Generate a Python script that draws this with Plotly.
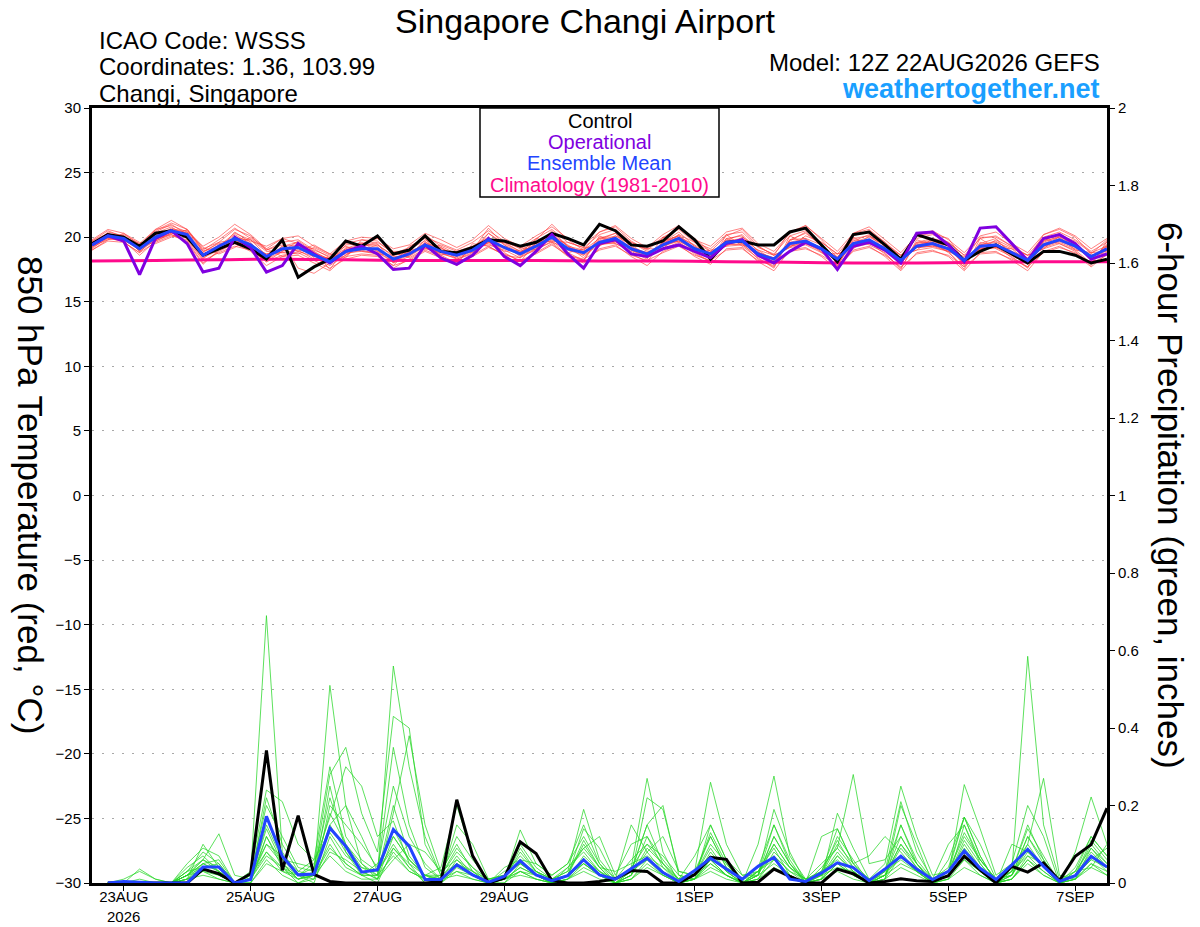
import plotly.graph_objects as go
import pandas as pd

# ---------------- time axis ----------------
TIMES = list(pd.date_range("2026-08-22 12:00", periods=65, freq="6h"))
PRECIP_TIMES = TIMES[1:]
CLIM_TIMES = TIMES[::4]

TICK_DATES = ["2026-08-23", "2026-08-25", "2026-08-27", "2026-08-29",
              "2026-09-01", "2026-09-03", "2026-09-05", "2026-09-07"]
TICK_LABELS = ["23AUG<br>2026", "25AUG", "27AUG", "29AUG", "1SEP", "3SEP", "5SEP", "7SEP"]

TEMP_TICKS = [30, 25, 20, 15, 10, 5, 0, -5, -10, -15, -20, -25, -30]
PRECIP_TICKS = [0, 0.2, 0.4, 0.6, 0.8, 1, 1.2, 1.4, 1.6, 1.8, 2]

# ---------------- 850 hPa temperature (deg C) ----------------
TEMP_CONTROL = [19.5, 20.2, 20.0, 19.3, 20.3, 20.5, 20.0, 18.6,
                19.1, 19.6, 19.1, 18.3, 19.8, 16.9, 17.7, 18.3,
                19.7, 19.3, 20.1, 18.7, 19.0, 20.1, 18.9, 18.8,
                19.2, 19.8, 19.7, 19.3, 19.6, 20.3, 19.9, 19.4,
                21.0, 20.5, 19.4, 19.3, 19.7, 20.8, 19.8, 18.3,
                19.6, 19.7, 19.4, 19.4, 20.4, 20.7, 19.4, 18.1,
                20.2, 20.4, 19.4, 18.3, 20.2, 19.8, 19.4, 18.2,
                18.9, 19.4, 18.7, 18.0, 18.9, 18.9, 18.6, 18.0,
                18.3]

TEMP_OPER = [19.4, 20.1, 19.7, 17.1, 19.9, 20.5, 19.5, 17.3,
             17.6, 20.0, 19.2, 17.3, 17.8, 19.5, 18.7, 18.0,
             18.9, 19.3, 18.7, 17.5, 17.6, 19.4, 18.4, 17.9,
             18.6, 19.9, 18.5, 17.8, 18.9, 20.2, 18.7, 17.6,
             19.5, 19.8, 18.7, 18.5, 19.1, 19.4, 18.9, 18.4,
             19.5, 19.8, 18.6, 18.0, 18.9, 19.6, 19.1, 17.5,
             19.3, 19.6, 19.0, 18.0, 20.3, 20.4, 19.4, 18.1,
             20.7, 20.8, 19.5, 18.2, 19.9, 20.2, 19.5, 18.3,
             18.7]

TEMP_MEAN = [19.4, 20.1, 19.9, 19.1, 20.0, 20.5, 20.2, 18.6,
             19.3, 19.9, 19.4, 18.5, 19.1, 19.2, 18.6, 18.1,
             18.9, 19.1, 19.1, 18.3, 18.7, 19.4, 18.9, 18.6,
             19.0, 19.8, 19.2, 18.7, 19.3, 20.0, 19.1, 18.8,
             19.6, 19.9, 19.1, 18.7, 19.4, 19.9, 19.1, 18.7,
             19.6, 19.7, 18.7, 18.3, 19.5, 19.7, 19.1, 18.3,
             19.5, 19.8, 19.1, 18.2, 19.3, 19.5, 19.1, 18.2,
             19.3, 19.4, 18.8, 18.2, 19.4, 19.8, 19.3, 18.5,
             19.1]

TEMP_CLIM = [18.15, 18.2, 18.25, 18.3, 18.25, 18.2, 18.2, 18.2, 18.15,
             18.15, 18.1, 18.05, 18.0, 18.0, 18.05, 18.1, 18.1]

TEMP_M01 = [19.2, 20.4, 20.1, 18.9, 20.3, 20.8, 20.0, 18.4, 19.0, 20.4, 19.6, 18.2, 19.3, 19.6, 18.4, 17.8,
            18.6, 19.4, 19.3, 18.0, 18.5, 19.8, 19.2, 18.3, 18.8, 20.3, 19.4, 18.5, 19.0, 20.4, 19.3, 18.4,
            19.8, 20.3, 19.0, 18.4, 19.6, 20.4, 19.3, 18.3, 19.9, 20.1, 18.5, 17.9, 19.8, 20.3, 19.4, 18.0,
            19.7, 20.2, 19.0, 17.9, 19.6, 19.9, 19.3, 17.8, 19.5, 19.9, 18.6, 17.9, 19.7, 20.3, 19.5, 18.2, 19.5]
TEMP_M02 = [19.6, 19.9, 19.7, 19.2, 19.8, 20.3, 20.4, 18.9, 19.5, 19.6, 19.1, 18.7, 18.8, 18.7, 19.2, 18.6,
            19.3, 18.9, 18.7, 18.6, 19.0, 19.2, 18.6, 18.9, 19.3, 19.5, 18.9, 19.0, 19.6, 19.7, 18.8, 19.1,
            19.4, 19.6, 19.4, 19.1, 19.1, 19.6, 18.8, 19.0, 19.3, 19.4, 19.0, 18.6, 19.2, 19.4, 18.8, 18.7,
            19.2, 19.5, 19.3, 18.6, 19.0, 19.2, 18.9, 18.5, 19.0, 19.2, 19.1, 18.6, 19.1, 19.5, 19.0, 18.8, 18.9]
TEMP_M03 = [19.8, 20.6, 20.3, 19.4, 20.5, 21.1, 20.6, 19.0, 19.8, 20.7, 19.9, 19.0, 19.6, 19.8, 19.0, 18.5,
            19.5, 19.8, 19.7, 18.7, 19.2, 20.0, 19.5, 19.0, 19.6, 20.5, 19.7, 19.1, 19.9, 20.6, 19.6, 19.2,
            20.2, 20.6, 19.6, 19.1, 20.0, 20.6, 19.6, 19.1, 20.2, 20.4, 19.2, 18.7, 20.1, 20.5, 19.6, 18.7,
            20.1, 20.5, 19.6, 18.6, 19.9, 20.2, 19.6, 18.6, 19.9, 20.1, 19.3, 18.6, 20.0, 20.4, 19.8, 18.9, 19.6]
TEMP_M04 = [19.0, 19.7, 19.6, 18.8, 19.6, 20.1, 19.8, 18.2, 18.8, 19.3, 19.0, 18.1, 18.6, 18.8, 18.2, 17.6,
            18.3, 18.6, 18.5, 17.8, 18.2, 18.9, 18.4, 18.1, 18.5, 19.2, 18.7, 18.2, 18.7, 19.4, 18.6, 18.3,
            19.0, 19.3, 18.6, 18.2, 18.8, 19.3, 18.6, 18.2, 19.0, 19.1, 18.2, 17.8, 18.9, 19.1, 18.6, 17.8,
            18.9, 19.2, 18.6, 17.7, 18.7, 18.9, 18.6, 17.7, 18.7, 18.8, 18.3, 17.7, 18.8, 19.2, 18.8, 18.0, 18.6]
TEMP_M05 = [19.5, 20.2, 20.0, 19.3, 20.2, 20.6, 20.3, 18.7, 19.2, 20.0, 19.7, 19.3, 19.9, 19.5, 18.7, 18.0,
            18.6, 19.3, 19.6, 18.8, 18.4, 19.1, 19.4, 18.9, 18.8, 19.6, 19.6, 19.2, 19.0, 19.7, 19.6, 19.2,
            19.3, 20.1, 19.6, 18.9, 19.1, 20.2, 19.6, 18.9, 19.3, 20.0, 19.3, 18.6, 19.2, 20.1, 19.6, 18.7,
            19.1, 20.1, 19.5, 18.6, 19.0, 19.9, 19.6, 18.6, 19.0, 19.8, 19.2, 18.6, 19.1, 20.1, 19.7, 18.8, 19.3]
TEMP_M06 = [19.3, 19.8, 20.1, 18.9, 19.8, 20.4, 19.9, 18.3, 19.4, 19.8, 19.0, 18.1, 18.9, 19.7, 18.9, 17.5,
            19.2, 19.0, 18.7, 17.8, 19.1, 19.7, 18.6, 18.0, 19.3, 20.0, 18.8, 18.1, 19.6, 20.3, 18.8, 18.2,
            19.9, 19.8, 18.7, 18.1, 19.7, 20.1, 18.8, 18.1, 19.9, 19.5, 18.3, 17.7, 19.8, 19.9, 18.8, 17.8,
            19.8, 19.6, 18.7, 17.6, 19.6, 19.6, 18.8, 17.7, 19.6, 19.3, 18.4, 17.7, 19.7, 20.0, 19.0, 18.0, 19.4]
TEMP_M07 = [19.7, 20.3, 19.8, 19.0, 20.1, 20.6, 20.5, 19.1, 19.6, 20.6, 20.1, 19.0, 19.4, 18.9, 18.5, 18.4,
            18.7, 19.0, 19.4, 18.6, 18.8, 19.5, 19.2, 18.5, 19.1, 19.9, 19.6, 18.9, 19.4, 20.1, 19.4, 18.7,
            19.7, 20.1, 19.4, 18.6, 19.5, 20.0, 19.4, 18.6, 19.7, 19.9, 19.0, 18.2, 19.6, 19.9, 19.4, 18.2,
            19.6, 20.0, 19.4, 18.1, 19.4, 19.6, 19.4, 18.1, 19.4, 19.6, 19.1, 18.1, 19.5, 20.0, 19.6, 18.4, 19.2]
TEMP_M08 = [19.1, 20.0, 20.2, 19.5, 19.9, 20.2, 19.7, 18.0, 18.9, 19.5, 19.3, 18.7, 19.0, 19.4, 19.1, 18.4,
            19.1, 19.6, 18.9, 18.1, 18.6, 19.3, 18.7, 18.4, 18.9, 19.6, 19.1, 18.8, 19.5, 19.9, 19.0, 18.6,
            19.4, 19.7, 19.2, 18.8, 19.3, 19.8, 19.2, 18.8, 19.4, 19.5, 18.8, 18.4, 19.4, 19.6, 19.2, 18.4,
            19.3, 19.6, 19.2, 18.3, 19.2, 19.3, 19.2, 18.3, 19.1, 19.2, 18.9, 18.4, 19.3, 19.7, 19.4, 18.6, 18.8]
TEMP_M09 = [19.4, 20.0, 19.9, 19.0, 20.0, 20.7, 20.3, 18.5, 19.2, 20.2, 19.5, 18.3, 18.9, 19.3, 18.8, 18.3,
            19.0, 19.2, 19.0, 18.3, 18.7, 19.6, 19.1, 18.7, 19.1, 20.3, 19.5, 18.9, 19.3, 20.5, 19.3, 19.0,
            19.9, 20.3, 19.3, 18.5, 19.5, 20.2, 19.0, 18.5, 19.8, 20.2, 18.9, 18.0, 19.7, 20.4, 19.3, 18.1,
            19.9, 20.1, 19.3, 18.0, 19.5, 19.8, 19.1, 17.9, 19.4, 19.7, 18.9, 18.0, 19.6, 20.1, 19.3, 18.3, 19.0]
TEMP_M10 = [19.6, 20.2, 19.6, 18.8, 20.1, 20.4, 20.0, 18.8, 19.6, 19.8, 19.2, 18.4, 19.3, 19.4, 18.9, 18.2,
            18.8, 18.9, 18.8, 18.1, 18.9, 19.1, 18.8, 18.5, 19.2, 19.4, 19.0, 18.4, 19.1, 19.6, 19.2, 18.9,
            19.5, 19.5, 19.0, 18.6, 19.4, 19.7, 19.1, 18.8, 19.5, 19.4, 18.6, 18.3, 19.3, 19.5, 19.0, 18.5,
            19.5, 19.6, 18.9, 18.3, 19.2, 19.3, 18.9, 18.3, 19.1, 19.2, 18.6, 18.3, 19.2, 19.6, 19.1, 18.5, 19.2]
TEMP_M11 = [19.3, 20.1, 20.0, 19.2, 20.4, 21.0, 20.2, 18.6, 19.1, 19.9, 19.8, 18.9, 18.8, 19.0, 18.3, 18.0,
            19.0, 19.5, 19.4, 18.5, 18.5, 19.3, 18.8, 18.3, 18.7, 19.8, 19.2, 18.6, 19.1, 20.2, 19.3, 18.6,
            20.0, 20.0, 19.0, 18.5, 19.6, 20.1, 19.3, 18.6, 19.7, 19.8, 18.7, 18.1, 19.5, 19.8, 19.0, 18.1,
            19.3, 19.7, 19.0, 18.0, 19.4, 19.7, 19.3, 18.0, 19.2, 19.5, 18.8, 18.0, 19.3, 19.9, 19.5, 18.3, 19.3]
TEMP_M12 = [19.5, 20.3, 19.8, 19.1, 19.7, 20.3, 20.1, 18.6, 19.4, 19.6, 19.4, 18.6, 19.0, 19.1, 18.7, 18.3,
            18.9, 19.1, 18.9, 18.4, 18.8, 19.3, 18.9, 18.6, 19.1, 19.6, 19.2, 18.8, 19.2, 19.8, 19.1, 18.9,
            19.6, 19.7, 19.1, 18.8, 19.3, 19.7, 19.0, 18.8, 19.6, 19.6, 18.8, 18.4, 19.3, 19.6, 19.1, 18.4,
            19.4, 19.7, 19.1, 18.3, 19.2, 19.4, 19.0, 18.3, 19.2, 19.3, 18.8, 18.3, 19.3, 19.7, 19.2, 18.6, 19.0]
TEMP_M13 = [19.4, 20.2, 20.1, 19.3, 20.6, 21.3, 20.6, 18.9, 19.3, 20.3, 19.8, 18.6, 19.6, 17.6, 17.2, 18.0,
            19.4, 19.5, 19.9, 18.9, 18.9, 20.2, 19.3, 18.7, 19.0, 20.7, 19.4, 18.8, 19.8, 21.0, 19.8, 19.0,
            20.4, 20.8, 19.7, 19.0, 19.9, 20.8, 19.9, 18.9, 20.1, 20.6, 19.3, 18.6, 20.4, 20.9, 19.8, 18.4,
            20.3, 20.6, 19.6, 18.3, 20.1, 20.3, 19.9, 18.2, 20.0, 20.0, 19.3, 18.3, 20.2, 20.6, 20.0, 18.7, 19.8]
TEMP_M14 = [19.0, 19.8, 20.3, 19.6, 19.5, 20.0, 20.6, 19.2, 18.7, 19.2, 20.0, 19.1, 18.5, 18.9, 19.4, 18.7,
            18.4, 19.8, 19.5, 18.0, 19.3, 19.9, 18.4, 17.9, 19.5, 19.3, 18.6, 18.4, 19.9, 19.6, 18.6, 18.2,
            20.1, 19.5, 18.9, 18.3, 20.0, 19.6, 18.7, 18.1, 20.2, 19.3, 18.4, 17.6, 20.1, 19.5, 18.9, 17.7,
            20.0, 19.4, 18.8, 17.5, 19.8, 19.4, 18.9, 17.5, 19.9, 19.1, 18.5, 17.6, 19.9, 19.5, 18.9, 17.8, 19.7]
TEMP_M15 = [19.7, 20.5, 20.0, 19.5, 20.6, 20.9, 20.4, 19.3, 20.0, 21.0, 20.2, 19.1, 19.9, 20.1, 19.3, 18.7,
            19.7, 20.0, 19.9, 19.1, 19.4, 20.3, 19.8, 19.2, 19.8, 20.9, 19.9, 19.3, 20.1, 20.8, 19.9, 19.4,
            20.4, 20.9, 19.9, 19.2, 20.2, 20.9, 19.8, 19.3, 20.4, 20.7, 19.5, 18.9, 20.3, 20.9, 19.9, 18.9,
            20.3, 20.8, 19.8, 18.8, 20.1, 20.5, 19.8, 18.8, 20.1, 20.4, 19.5, 18.8, 20.2, 20.7, 20.1, 19.1, 19.9]
TEMP_M16 = [19.2, 19.9, 19.7, 18.6, 19.7, 20.2, 19.6, 17.9, 19.0, 19.5, 18.9, 17.8, 18.5, 18.6, 18.0, 17.4,
            18.5, 18.7, 18.6, 17.6, 18.3, 19.0, 18.5, 17.8, 18.6, 19.3, 18.6, 17.9, 18.8, 19.5, 18.5, 18.0,
            19.1, 19.4, 18.5, 17.8, 18.9, 19.4, 18.5, 17.9, 19.1, 19.2, 18.1, 17.4, 19.0, 19.2, 18.5, 17.5,
            19.0, 19.3, 18.5, 17.4, 18.8, 19.0, 18.5, 17.4, 18.8, 18.9, 18.2, 17.4, 18.9, 19.3, 18.7, 17.7, 18.7]

TEMP_MEMBERS = [TEMP_M01, TEMP_M02, TEMP_M03, TEMP_M04, TEMP_M05, TEMP_M06, TEMP_M07, TEMP_M08,
                TEMP_M09, TEMP_M10, TEMP_M11, TEMP_M12, TEMP_M13, TEMP_M14, TEMP_M15, TEMP_M16]

# ---------------- 6-hour precipitation (inches), from 22AUG 18Z ----------------
PRCP_CONTROL = [0, 0, 0, 0, 0, 0, 0.036, 0.024,
                0, 0.024, 0.342, 0.033, 0.174, 0.022, 0.004, 0,
                0, 0, 0, 0, 0, 0.003, 0.215, 0.07,
                0, 0.013, 0.106, 0.076, 0.006, 0, 0, 0.004,
                0.011, 0.032, 0.03, 0, 0, 0.022, 0.066, 0.061,
                0, 0.002, 0.036, 0.017, 0, 0, 0.036, 0.024,
                0, 0.004, 0.011, 0.006, 0.004, 0.019, 0.069, 0.034,
                0, 0.043, 0.028, 0.052, 0.006, 0.069, 0.099, 0.193]

PRCP_MEAN = [0, 0.004, 0.002, 0, 0, 0, 0.041, 0.041,
             0, 0.009, 0.172, 0.069, 0.021, 0.023, 0.142, 0.095,
             0.028, 0.034, 0.138, 0.095, 0.009, 0.009, 0.047, 0.021,
             0.002, 0.017, 0.057, 0.021, 0.006, 0.019, 0.06, 0.021,
             0.01, 0.038, 0.064, 0.027, 0.004, 0.032, 0.064, 0.036,
             0.01, 0.043, 0.066, 0.01, 0.004, 0.026, 0.052, 0.04,
             0.006, 0.036, 0.069, 0.036, 0.009, 0.03, 0.083, 0.038,
             0.009, 0.047, 0.087, 0.043, 0.004, 0.019, 0.069, 0.041]

PRCP_M01 = [0, 0, 0, 0, 0, 0.02, 0.05, 0.06, 0, 0.02, 0.69, 0.08, 0.02, 0, 0.12, 0.05,
            0.02, 0, 0.09, 0.04, 0, 0, 0.03, 0.01, 0, 0, 0.05, 0.02, 0, 0.02, 0.06, 0.03,
            0, 0.04, 0.27, 0.08, 0, 0.01, 0.06, 0.02, 0, 0.03, 0.09, 0.02, 0, 0.01, 0.05, 0.02,
            0, 0.02, 0.07, 0.03, 0, 0.02, 0.1, 0.04, 0, 0.01, 0.06, 0.02, 0, 0.01, 0.05, 0.03]
PRCP_M02 = [0, 0.01, 0.03, 0.01, 0, 0.01, 0.1, 0.04, 0, 0.01, 0.22, 0.1, 0.03, 0.02, 0.51, 0.2,
            0.05, 0.01, 0.12, 0.06, 0.02, 0, 0.06, 0.03, 0, 0.01, 0.08, 0.03, 0.01, 0.03, 0.19, 0.06,
            0.01, 0.06, 0.1, 0.05, 0, 0.02, 0.12, 0.04, 0.01, 0.04, 0.15, 0.05, 0, 0.02, 0.07, 0.03,
            0, 0.03, 0.15, 0.06, 0.01, 0.03, 0.08, 0.03, 0, 0.02, 0.09, 0.04, 0, 0.02, 0.08, 0.04]
PRCP_M03 = [0, 0, 0, 0, 0, 0.03, 0.08, 0.05, 0, 0, 0.12, 0.05, 0.01, 0.03, 0.18, 0.1,
            0.04, 0.02, 0.56, 0.3, 0.12, 0.02, 0.05, 0.03, 0, 0.01, 0.04, 0.02, 0, 0.02, 0.11, 0.04,
            0, 0.03, 0.15, 0.2, 0.02, 0.01, 0.08, 0.03, 0, 0.02, 0.1, 0.04, 0.01, 0.03, 0.14, 0.05,
            0, 0.02, 0.1, 0.04, 0, 0.03, 0.12, 0.06, 0.01, 0.03, 0.585, 0.15, 0.01, 0.02, 0.1, 0.05]
PRCP_M04 = [0, 0, 0.036, 0.01, 0, 0.02, 0.06, 0.127, 0.02, 0.01, 0.17, 0.06, 0.05, 0.04, 0.28, 0.35,
            0.18, 0.08, 0.43, 0.4, 0.1, 0.02, 0.08, 0.04, 0, 0.02, 0.07, 0.03, 0.01, 0.04, 0.09, 0.12,
            0.02, 0.1, 0.12, 0.06, 0.01, 0.03, 0.26, 0.1, 0.02, 0.03, 0.06, 0.02, 0, 0.04, 0.09, 0.28,
            0.05, 0.06, 0.12, 0.05, 0.01, 0.04, 0.17, 0.07, 0, 0.03, 0.07, 0.05, 0, 0.03, 0.12, 0.07]
PRCP_M05 = [0, 0, 0, 0, 0, 0.04, 0.07, 0.03, 0, 0.03, 0.24, 0.21, 0.1, 0.06, 0.3, 0.12,
            0.06, 0.03, 0.35, 0.15, 0.04, 0.01, 0.15, 0.1, 0.01, 0.01, 0.137, 0.05, 0.02, 0.05, 0.15, 0.05,
            0, 0.02, 0.22, 0.19, 0.03, 0.02, 0.1, 0.05, 0, 0.1, 0.276, 0.07, 0.01, 0.02, 0.04, 0.03,
            0, 0.02, 0.05, 0.03, 0, 0.02, 0.254, 0.14, 0.02, 0.05, 0.2, 0.12, 0, 0.02, 0.06, 0.04]
PRCP_M06 = [0, 0, 0.01, 0, 0, 0.01, 0.04, 0.02, 0, 0.02, 0.08, 0.04, 0, 0.02, 0.25, 0.08,
            0.02, 0.02, 0.2, 0.07, 0.02, 0.04, 0.2, 0.07, 0, 0.01, 0.03, 0.01, 0, 0.01, 0.04, 0.02,
            0, 0.01, 0.05, 0.02, 0, 0.01, 0.15, 0.06, 0.01, 0.02, 0.19, 0.08, 0, 0.01, 0.18, 0.09,
            0.01, 0.05, 0.25, 0.12, 0.02, 0.03, 0.09, 0.04, 0, 0.04, 0.1, 0.27, 0.02, 0.01, 0.05, 0.02]
PRCP_M07 = [0, 0, 0, 0, 0, 0.02, 0.05, 0.03, 0, 0, 0.05, 0.03, 0.02, 0.05, 0.17, 0.3,
            0.25, 0.12, 0.16, 0.05, 0, 0.01, 0.02, 0.01, 0, 0.03, 0.05, 0.02, 0, 0.01, 0.07, 0.03,
            0.01, 0.15, 0.08, 0.12, 0.03, 0.02, 0.05, 0.02, 0, 0.01, 0.08, 0.04, 0.01, 0.03, 0.06, 0.02,
            0, 0.01, 0.2, 0.1, 0, 0.01, 0.15, 0.05, 0, 0.01, 0.06, 0.03, 0, 0.08, 0.222, 0.1]
PRCP_M08 = [0, 0, 0, 0, 0, 0.01, 0.03, 0.01, 0, 0.01, 0.12, 0.04, 0.01, 0.02, 0.1, 0.04,
            0.02, 0.05, 0.12, 0.06, 0.02, 0.01, 0.05, 0.02, 0, 0.04, 0.06, 0.02, 0, 0.02, 0.14, 0.09,
            0.01, 0.03, 0.15, 0.05, 0.01, 0.07, 0.15, 0.06, 0.02, 0.02, 0.05, 0.02, 0, 0.12, 0.14, 0.05,
            0.07, 0.12, 0.08, 0.03, 0.01, 0.1, 0.15, 0.06, 0.01, 0.02, 0.1, 0.04, 0, 0.02, 0.07, 0.03]
PRCP_M09 = [0, 0, 0, 0, 0, 0.02, 0.04, 0.02, 0, 0.01, 0.08, 0.03, 0.01, 0.02, 0.07, 0.03,
            0.01, 0.01, 0.06, 0.1, 0.08, 0.03, 0.1, 0.03, 0.01, 0.02, 0.1, 0.04, 0.01, 0.03, 0.09, 0.04,
            0.03, 0.05, 0.07, 0.04, 0.01, 0.03, 0.12, 0.04, 0.01, 0.03, 0.07, 0.03, 0.01, 0.05, 0.09, 0.04,
            0.01, 0.03, 0.06, 0.03, 0, 0.06, 0.17, 0.07, 0, 0.1, 0.08, 0.04, 0.01, 0.03, 0.04, 0.1]
PRCP_M10 = [0, 0, 0, 0, 0, 0.03, 0.04, 0.05, 0, 0.01, 0.15, 0.06, 0.02, 0.01, 0.2, 0.15,
            0.1, 0.04, 0.25, 0.12, 0.05, 0.01, 0.07, 0.02, 0, 0, 0.03, 0.01, 0, 0.02, 0.05, 0.02,
            0, 0.02, 0.12, 0.04, 0, 0.01, 0.06, 0.02, 0, 0.02, 0.15, 0.06, 0, 0.01, 0.05, 0.02,
            0, 0.01, 0.15, 0.05, 0, 0.02, 0.06, 0.02, 0, 0.02, 0.12, 0.05, 0, 0.01, 0.09, 0.04]
PRCP_M11 = [0, 0, 0, 0, 0, 0.02, 0.06, 0.04, 0, 0.02, 0.1, 0.05, 0.01, 0.02, 0.15, 0.2,
            0.12, 0.03, 0.1, 0.04, 0.01, 0.02, 0.12, 0.06, 0.01, 0.02, 0.06, 0.05, 0.02, 0.05, 0.12, 0.05,
            0.01, 0.04, 0.1, 0.07, 0.02, 0.01, 0.04, 0.02, 0, 0.02, 0.12, 0.05, 0.01, 0.02, 0.12, 0.06,
            0, 0.02, 0.1, 0.05, 0, 0.02, 0.07, 0.03, 0, 0.03, 0.15, 0.06, 0, 0.04, 0.12, 0.07]
PRCP_M12 = [0, 0, 0, 0, 0, 0.01, 0.02, 0.01, 0, 0, 0.06, 0.02, 0, 0.01, 0.08, 0.06,
            0.03, 0.01, 0.08, 0.03, 0.01, 0, 0.04, 0.02, 0, 0.01, 0.02, 0.01, 0, 0.01, 0.03, 0.01,
            0, 0.01, 0.04, 0.02, 0, 0.01, 0.03, 0.01, 0, 0.01, 0.04, 0.02, 0, 0.01, 0.03, 0.01,
            0, 0.01, 0.04, 0.02, 0, 0.01, 0.04, 0.02, 0, 0.01, 0.05, 0.02, 0, 0.01, 0.04, 0.02]
PRCP_M13 = [0, 0, 0, 0, 0, 0.05, 0.09, 0.07, 0, 0.02, 0.2, 0.12, 0.04, 0.03, 0.15, 0.08,
            0.03, 0.01, 0.18, 0.38, 0.15, 0.03, 0.06, 0.02, 0, 0.01, 0.09, 0.03, 0, 0.02, 0.1, 0.04,
            0, 0.02, 0.09, 0.05, 0.01, 0.02, 0.13, 0.05, 0, 0.02, 0.12, 0.05, 0, 0.03, 0.11, 0.04,
            0, 0.03, 0.21, 0.08, 0.01, 0.03, 0.17, 0.1, 0.01, 0.02, 0.12, 0.06, 0, 0.02, 0.11, 0.06]
PRCP_M14 = [0, 0, 0, 0, 0, 0.02, 0.03, 0.02, 0, 0.01, 0.14, 0.05, 0.02, 0.04, 0.22, 0.1,
            0.05, 0.02, 0.14, 0.06, 0.02, 0.01, 0.03, 0.02, 0, 0.01, 0.04, 0.02, 0, 0.04, 0.08, 0.03,
            0, 0.02, 0.08, 0.03, 0, 0.02, 0.09, 0.03, 0, 0.03, 0.07, 0.03, 0, 0.02, 0.08, 0.03,
            0, 0.02, 0.09, 0.04, 0, 0.02, 0.11, 0.05, 0, 0.02, 0.08, 0.04, 0, 0.02, 0.06, 0.09]
PRCP_M15 = [0, 0, 0, 0, 0, 0.01, 0.05, 0.03, 0, 0.01, 0.1, 0.07, 0.03, 0.06, 0.13, 0.07,
            0.04, 0.03, 0.09, 0.05, 0.02, 0.02, 0.09, 0.04, 0.01, 0.02, 0.05, 0.03, 0.01, 0.02, 0.05, 0.02,
            0, 0.03, 0.06, 0.03, 0, 0.02, 0.07, 0.03, 0, 0.03, 0.1, 0.04, 0, 0.02, 0.1, 0.05,
            0.01, 0.02, 0.12, 0.05, 0, 0.03, 0.13, 0.06, 0.01, 0.03, 0.14, 0.07, 0, 0.03, 0.09, 0.05]
PRCP_M16 = [0, 0, 0, 0, 0, 0.03, 0.06, 0.03, 0, 0.01, 0.07, 0.04, 0.02, 0.02, 0.09, 0.05,
            0.02, 0.02, 0.07, 0.03, 0.01, 0.01, 0.05, 0.02, 0, 0.01, 0.03, 0.02, 0, 0.01, 0.05, 0.02,
            0, 0.01, 0.06, 0.02, 0, 0.01, 0.05, 0.02, 0, 0.01, 0.06, 0.02, 0, 0.01, 0.07, 0.03,
            0, 0.01, 0.07, 0.03, 0, 0.01, 0.06, 0.03, 0, 0.01, 0.07, 0.03, 0, 0.01, 0.07, 0.04]

PRCP_MEMBERS = [PRCP_M01, PRCP_M02, PRCP_M03, PRCP_M04, PRCP_M05, PRCP_M06, PRCP_M07, PRCP_M08,
                PRCP_M09, PRCP_M10, PRCP_M11, PRCP_M12, PRCP_M13, PRCP_M14, PRCP_M15, PRCP_M16]

# ---------------- styling ----------------
FONT = "Liberation Sans, Arial, Helvetica, sans-serif"
C_MEMBER_T = "rgba(255,60,60,0.8)"
C_MEMBER_P = "rgba(40,215,40,0.95)"
C_CONTROL = "#000000"
C_OPER = "#8000e0"
C_MEAN = "#2244ff"
C_CLIM = "#ff0a8c"
C_SITE = "#1a9fff"

W, H = 1200, 927
ML, MR, MT, MB = 92, 93, 108, 44
PW, PH = W - ML - MR, H - MT - MB


def px_x(x):
    return (x - ML) / PW


def px_y(y):
    return (MT + PH - y) / PH


fig = go.Figure()

for m in TEMP_MEMBERS:
    fig.add_trace(go.Scatter(x=TIMES, y=m, mode="lines", yaxis="y",
                             line=dict(color=C_MEMBER_T, width=0.8), hoverinfo="skip"))
fig.add_trace(go.Scatter(x=CLIM_TIMES, y=TEMP_CLIM, mode="lines", yaxis="y",
                         line=dict(color=C_CLIM, width=3, shape="spline")))
fig.add_trace(go.Scatter(x=TIMES, y=TEMP_CONTROL, mode="lines", yaxis="y",
                         line=dict(color=C_CONTROL, width=3)))
fig.add_trace(go.Scatter(x=TIMES, y=TEMP_OPER, mode="lines", yaxis="y",
                         line=dict(color=C_OPER, width=3)))
fig.add_trace(go.Scatter(x=TIMES, y=TEMP_MEAN, mode="lines", yaxis="y",
                         line=dict(color=C_MEAN, width=3)))

for m in PRCP_MEMBERS:
    fig.add_trace(go.Scatter(x=PRECIP_TIMES, y=m, mode="lines", yaxis="y2",
                             line=dict(color=C_MEMBER_P, width=0.8), hoverinfo="skip"))
fig.add_trace(go.Scatter(x=PRECIP_TIMES, y=PRCP_CONTROL, mode="lines", yaxis="y2",
                         line=dict(color=C_CONTROL, width=3)))
fig.add_trace(go.Scatter(x=PRECIP_TIMES, y=PRCP_MEAN, mode="lines", yaxis="y2",
                         line=dict(color=C_MEAN, width=3)))

axis_common = dict(showline=True, linecolor="black", linewidth=3, ticks="outside",
                   ticklen=5, tickwidth=1, tickcolor="black", zeroline=False,
                   automargin=False,
                   tickfont=dict(family=FONT, size=15, color="black"))

fig.update_layout(
    width=W, height=H, autosize=False,
    margin=dict(l=ML, r=MR, t=MT, b=MB, pad=0, autoexpand=False),
    paper_bgcolor="white", plot_bgcolor="white",
    showlegend=False, hovermode=False,
    font=dict(family=FONT, color="black"),
    xaxis=dict(type="date", range=[TIMES[0], TIMES[-1]], tickvals=TICK_DATES,
               ticktext=TICK_LABELS, mirror=True, showgrid=False,
               ticklabelstandoff=-7, **axis_common),
    yaxis=dict(range=[-30, 30], tickvals=TEMP_TICKS, mirror=True, showgrid=True,
               gridcolor="#a8a8a8", gridwidth=1.2, griddash="2px,8px", **axis_common),
    yaxis2=dict(range=[0, 2], tickvals=PRECIP_TICKS, overlaying="y", side="right",
                showgrid=False, **axis_common),
)

ann = []
ann.append(dict(text="Singapore Changi Airport", x=px_x(585), y=px_y(21),
                font=dict(size=34)))
for txt, yy in [("ICAO Code: WSSS", 40), ("Coordinates: 1.36, 103.99", 66),
                ("Changi, Singapore", 93)]:
    ann.append(dict(text=txt, x=px_x(97), y=px_y(yy), xanchor="left", font=dict(size=24)))
ann.append(dict(text="Model: 12Z 22AUG2026 GEFS", x=px_x(1102), y=px_y(63),
                xanchor="right", font=dict(size=24)))
ann.append(dict(text="<b>weathertogether.net</b>", x=px_x(1102), y=px_y(89),
                xanchor="right", font=dict(size=27, color=C_SITE)))
# legend box text
for txt, col, yy in [("Control", C_CONTROL, 121), ("Operational", C_OPER, 142),
                     ("Ensemble Mean", C_MEAN, 163), ("Climatology (1981-2010)", C_CLIM, 185)]:
    ann.append(dict(text=txt, x=px_x(599.5), y=px_y(yy), font=dict(size=20, color=col)))
# axis titles
ann.append(dict(text="850 hPa Temperature (red, °C)", x=px_x(31), y=px_y(495),
                textangle=90, font=dict(size=35)))
ann.append(dict(text="6-hour Precipitation (green, inches)", x=px_x(1171), y=px_y(495),
                textangle=90, font=dict(size=35)))

for a in ann:
    a.setdefault("xanchor", "center")
    a.update(xref="paper", yref="paper", yanchor="middle", showarrow=False)
    a["font"] = dict(family=FONT, color=a["font"].get("color", "black"), size=a["font"]["size"])
fig.update_layout(annotations=ann)

fig.add_shape(type="rect", xref="paper", yref="paper",
              x0=px_x(480), x1=px_x(719), y0=px_y(197), y1=1.0,
              line=dict(color="black", width=1.5), fillcolor="white", layer="above")

fig.write_html("out.html", config={"displayModeBar": False},
               post_script="document.body.style.margin='0';document.body.style.overflow='hidden';")
